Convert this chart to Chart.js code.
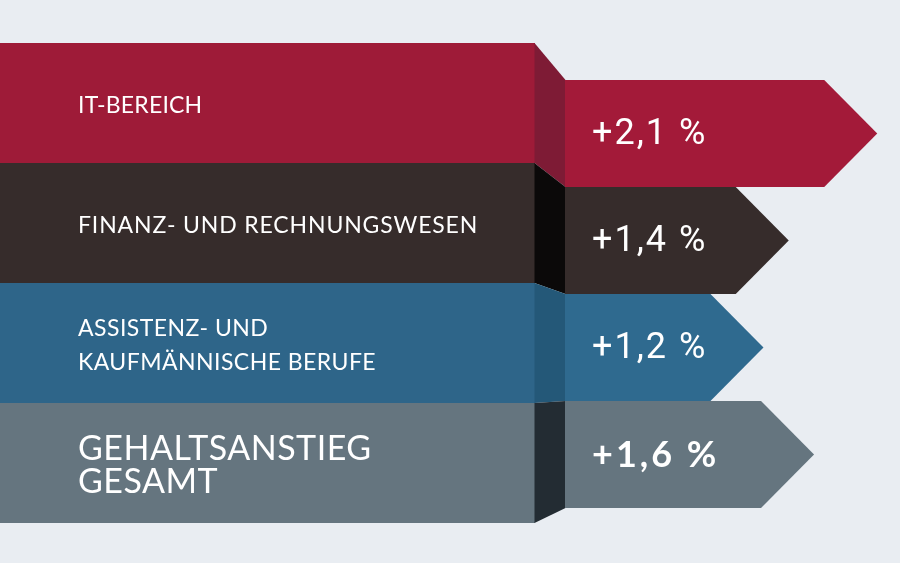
<!DOCTYPE html>
<html>
<head>
<meta charset="utf-8">
<script src="https://cdn.jsdelivr.net/npm/chart.js@4.4.0/dist/chart.umd.min.js"></script>
<style>
  html, body { margin: 0; padding: 0; background: #E9EDF2; }
  #wrap { width: 900px; height: 563px; }
</style>
</head>
<body>
<div id="wrap"><canvas id="c" width="900" height="563"></canvas></div>
<script>
// ---- data ----
const categories = [
  ["IT-BEREICH"],
  ["FINANZ- UND RECHNUNGSWESEN"],
  ["ASSISTENZ- UND", "KAUFMÄNNISCHE BERUFE"],
  ["GEHALTSANSTIEG", "GESAMT"]
];
const increasePercent = [2.1, 1.4, 1.2, 1.6];

// ---- styles ----
const blockColors = ["#9E1B38", "#362C2B", "#2E6589", "#65757F"];
const foldColors  = ["#7E1B35", "#0B0909", "#245878", "#232C33"];
const arrowColors = ["#A31A39", "#362C2B", "#2F6A8F", "#65757F"];
const labelFonts  = ["23px Lato", "23px Lato", "23px Lato", "34px Lato"];
const labelSpacing = ["0.2px", "0.85px", "0.45px", "0.5px"];
const labelLineH  = [0, 0, 34, 33];
const valueFonts  = ["36px Roboto", "36px Roboto", "36px Roboto", "bold 36px Lato"];
const valueSpacing = ["2px", "2px", "2px", "3px"];

const X_MIN = -0.37, X_MAX = 2.28;
const BLOCK_TOP = 43, BLOCK_H = 120, BLOCK_RIGHT = 535, TIP = 53;

function fmt(v) { return "+" + v.toFixed(1).replace(".", ",") + " %"; }

const infographic = {
  id: "infographic",
  beforeDatasetsDraw(chart) {
    const ctx = chart.ctx;
    const meta = chart.getDatasetMeta(0);
    const n = meta.data.length;
    const ca = chart.chartArea;
    // left blocks + folds
    for (let i = 0; i < n; i++) {
      const el = meta.data[i];
      const aTop = el.y - el.height / 2, aBot = el.y + el.height / 2;
      const lTop = BLOCK_TOP + i * BLOCK_H, lBot = lTop + BLOCK_H;
      ctx.save();
      ctx.fillStyle = blockColors[i];
      ctx.fillRect(0, lTop, BLOCK_RIGHT, BLOCK_H);
      ctx.fillStyle = foldColors[i];
      ctx.beginPath();
      ctx.moveTo(BLOCK_RIGHT - 0.5, lTop);
      ctx.lineTo(ca.left + 0.5, aTop);
      ctx.lineTo(ca.left + 0.5, aBot);
      ctx.lineTo(BLOCK_RIGHT - 0.5, lBot);
      ctx.closePath();
      ctx.fill();
      ctx.restore();
    }
    // arrows
    for (let i = 0; i < n; i++) {
      const el = meta.data[i];
      const top = el.y - el.height / 2, bot = el.y + el.height / 2;
      ctx.save();
      ctx.fillStyle = arrowColors[i];
      ctx.beginPath();
      ctx.moveTo(el.base, top);
      ctx.lineTo(el.x - TIP, top);
      ctx.lineTo(el.x, el.y);
      ctx.lineTo(el.x - TIP, bot);
      ctx.lineTo(el.base, bot);
      ctx.closePath();
      ctx.fill();
      ctx.restore();
    }
  },
  afterDatasetsDraw(chart) {
    const ctx = chart.ctx;
    const meta = chart.getDatasetMeta(0);
    const ds = chart.data.datasets[0];
    ctx.save();
    ctx.fillStyle = "#FFFFFF";
    ctx.textAlign = "left";
    ctx.textBaseline = "middle";
    for (let i = 0; i < meta.data.length; i++) {
      const el = meta.data[i];
      // category label in the left block
      const lines = chart.data.labels[i];
      const cy = BLOCK_TOP + i * BLOCK_H + BLOCK_H / 2 + 3;
      ctx.font = labelFonts[i];
      ctx.letterSpacing = labelSpacing[i];
      const lh = labelLineH[i];
      const y0 = cy - (lines.length - 1) * lh / 2;
      lines.forEach((t, k) => ctx.fillText(t, 78, y0 + k * lh));
      // value label in the arrow
      ctx.font = valueFonts[i];
      ctx.letterSpacing = valueSpacing[i];
      ctx.fillText(fmt(ds.data[i]), 592, el.y + 1);
      ctx.letterSpacing = "0px";
    }
    ctx.restore();
  }
};

new Chart(document.getElementById("c"), {
  type: "bar",
  data: {
    labels: categories,
    datasets: [{
      data: increasePercent,
      base: X_MIN,
      backgroundColor: "rgba(0,0,0,0)",
      categoryPercentage: 1,
      barPercentage: 1
    }]
  },
  options: {
    indexAxis: "y",
    responsive: false,
    animation: false,
    layout: { padding: { left: 565, top: 80, bottom: 55, right: 0 } },
    scales: {
      x: { display: false, min: X_MIN, max: X_MAX },
      y: { display: false }
    },
    plugins: { legend: { display: false }, tooltip: { enabled: false } }
  },
  plugins: [infographic]
});
</script>
</body>
</html>
